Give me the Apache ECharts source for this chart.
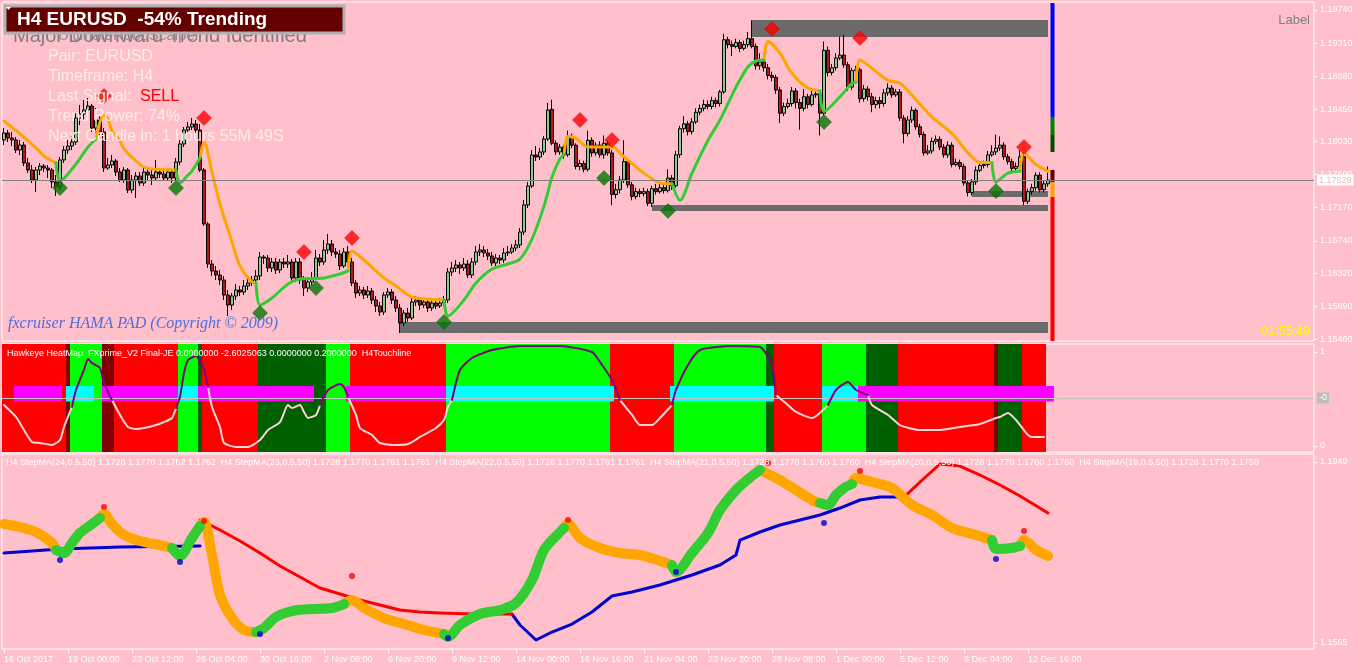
<!DOCTYPE html>
<html><head><meta charset="utf-8">
<script src="https://cdn.jsdelivr.net/npm/echarts@6/dist/echarts.min.js"></script>
<style>html,body{margin:0;padding:0;background:#ffc0cb;}#c{width:1358px;height:670px;}</style>
</head><body><div id="c"></div>
<script>
// ---------------- DATA ----------------
const tickLabels = ['16 Oct 2017','19 Oct 00:00','23 Oct 12:00','26 Oct 04:00','30 Oct 16:00','2 Nov 08:00','6 Nov 20:00','9 Nov 12:00','14 Nov 00:00','16 Nov 16:00','21 Nov 04:00','23 Nov 20:00','28 Nov 08:00','1 Dec 00:00','5 Dec 12:00','8 Dec 04:00','12 Dec 16:00'];
const priceTicks = [1.1974,1.1931,1.1888,1.1845,1.1803,1.1760,1.1717,1.1674,1.1632,1.1589,1.1546];
const heatTicks = [0,1];
const stepTicks = [1.1949,1.1565];
const currentPrice = 1.17529;
const heatMidLevel = 0.511;

// candles: [open, close, low, high]
const candles = [
[1.18050,1.18141,1.17985,1.18206],[1.18141,1.18076,1.18024,1.18180],[1.18076,1.18050,1.17972,1.18154],[1.18050,1.17920,1.17881,1.18089],[1.17920,1.17985,1.17855,1.18050],
[1.17985,1.17751,1.17712,1.18024],[1.17751,1.17660,1.17621,1.17816],[1.17660,1.17530,1.17491,1.17725],[1.17530,1.17660,1.17374,1.17699],[1.17660,1.17712,1.17595,1.17751],
[1.17712,1.17686,1.17634,1.17738],[1.17686,1.17660,1.17556,1.17725],[1.17660,1.17504,1.17426,1.17686],[1.17504,1.17439,1.17322,1.17595],[1.17439,1.17790,1.17400,1.17829],
[1.17790,1.17920,1.17751,1.17972],[1.17920,1.17972,1.17868,1.18050],[1.17972,1.18024,1.17920,1.18115],[1.18024,1.18336,1.17985,1.18414],[1.18336,1.18388,1.18245,1.18505],
[1.18388,1.18440,1.18310,1.18570],[1.18440,1.18492,1.18375,1.18596],[1.18492,1.18206,1.18154,1.18518],[1.18206,1.18310,1.18141,1.18466],[1.18310,1.18154,1.18115,1.18375],
[1.18154,1.17686,1.17634,1.18206],[1.17686,1.17725,1.17660,1.17816],[1.17725,1.17777,1.17686,1.17855],[1.17777,1.17634,1.17582,1.17803],[1.17634,1.17530,1.17504,1.17686],
[1.17530,1.17660,1.17491,1.17699],[1.17660,1.17400,1.17361,1.17686],[1.17400,1.17530,1.17361,1.17595],[1.17530,1.17582,1.17296,1.17634],[1.17582,1.17491,1.17452,1.17634],
[1.17491,1.17634,1.17452,1.17686],[1.17634,1.17595,1.17530,1.17686],[1.17595,1.17556,1.17465,1.17660],[1.17556,1.17634,1.17530,1.17790],[1.17634,1.17608,1.17556,1.17686],
[1.17608,1.17556,1.17517,1.17660],[1.17556,1.17634,1.17517,1.17660],[1.17634,1.17556,1.17491,1.17660],[1.17556,1.17764,1.17517,1.17816],[1.17764,1.17998,1.17725,1.18050],
[1.17998,1.18180,1.17959,1.18219],[1.18180,1.18219,1.18141,1.18284],[1.18219,1.18258,1.18180,1.18336],[1.18258,1.18180,1.18141,1.18310],[1.18180,1.17660,1.17634,1.18258],
[1.17660,1.16958,1.16932,1.17686],[1.16958,1.16438,1.16386,1.16984],[1.16438,1.16347,1.16282,1.16490],[1.16347,1.16295,1.16230,1.16412],[1.16295,1.16230,1.16165,1.16360],
[1.16230,1.16035,1.15970,1.16282],[1.16035,1.15905,1.15762,1.16100],[1.15905,1.16022,1.15840,1.16061],[1.16022,1.16100,1.15970,1.16178],[1.16100,1.16074,1.16022,1.16152],
[1.16074,1.16152,1.16035,1.16230],[1.16152,1.16191,1.16100,1.16256],[1.16191,1.16230,1.16152,1.16282],[1.16230,1.16282,1.16178,1.16360],[1.16282,1.16529,1.16230,1.16594],
[1.16529,1.16516,1.16438,1.16555],[1.16516,1.16386,1.16334,1.16555],[1.16386,1.16464,1.16334,1.16516],[1.16464,1.16360,1.16308,1.16516],[1.16360,1.16464,1.16321,1.16503],
[1.16464,1.16438,1.16386,1.16516],[1.16438,1.16464,1.16386,1.16555],[1.16464,1.16256,1.16217,1.16503],[1.16256,1.16464,1.16204,1.16516],[1.16464,1.16230,1.16178,1.16516],
[1.16230,1.16126,1.16022,1.16282],[1.16126,1.16204,1.16074,1.16243],[1.16204,1.16256,1.16165,1.16334],[1.16256,1.16516,1.16230,1.16620],[1.16516,1.16464,1.16412,1.16568],
[1.16464,1.16620,1.16425,1.16750],[1.16620,1.16698,1.16568,1.16828],[1.16698,1.16594,1.16542,1.16750],[1.16594,1.16568,1.16516,1.16646],[1.16568,1.16412,1.16360,1.16620],
[1.16412,1.16594,1.16386,1.16646],[1.16594,1.16464,1.16425,1.16672],[1.16464,1.16191,1.16152,1.16516],[1.16191,1.16061,1.15996,1.16230],[1.16061,1.16100,1.16022,1.16152],
[1.16100,1.16035,1.15983,1.16139],[1.16035,1.16087,1.15996,1.16152],[1.16087,1.15970,1.15918,1.16126],[1.15970,1.15892,1.15814,1.16022],[1.15892,1.15814,1.15762,1.15944],
[1.15814,1.16035,1.15775,1.16074],[1.16035,1.16074,1.15996,1.16126],[1.16074,1.15970,1.15918,1.16113],[1.15970,1.15866,1.15814,1.16022],[1.15866,1.15671,1.15541,1.15918],
[1.15671,1.15801,1.15632,1.15840],[1.15801,1.15736,1.15684,1.15866],[1.15736,1.15944,1.15710,1.15996],[1.15944,1.15970,1.15892,1.16022],[1.15970,1.15905,1.15840,1.16009],
[1.15905,1.15944,1.15866,1.15996],[1.15944,1.15866,1.15814,1.15983],[1.15866,1.15931,1.15827,1.15970],[1.15931,1.15892,1.15853,1.15983],[1.15892,1.15931,1.15866,1.15996],
[1.15931,1.15970,1.15892,1.16022],[1.15970,1.16334,1.15931,1.16386],[1.16334,1.16386,1.16282,1.16464],[1.16386,1.16425,1.16334,1.16490],[1.16425,1.16386,1.16308,1.16464],
[1.16386,1.16438,1.16347,1.16516],[1.16438,1.16295,1.16256,1.16490],[1.16295,1.16464,1.16256,1.16516],[1.16464,1.16594,1.16425,1.16672],[1.16594,1.16620,1.16542,1.16698],
[1.16620,1.16581,1.16529,1.16672],[1.16581,1.16542,1.16490,1.16633],[1.16542,1.16451,1.16412,1.16594],[1.16451,1.16516,1.16399,1.16568],[1.16516,1.16490,1.16438,1.16555],
[1.16490,1.16581,1.16451,1.16646],[1.16581,1.16594,1.16542,1.16672],[1.16594,1.16646,1.16568,1.16698],[1.16646,1.16685,1.16607,1.16750],[1.16685,1.16854,1.16646,1.16906],
[1.16854,1.17205,1.16815,1.17270],[1.17205,1.17452,1.17166,1.17504],[1.17452,1.17855,1.17426,1.17920],[1.17855,1.17829,1.17777,1.17972],[1.17829,1.17894,1.17790,1.17946],
[1.17894,1.18063,1.17855,1.18102],[1.18063,1.18440,1.18037,1.18531],[1.18448,1.18008,1.17983,1.18574],[1.18008,1.17895,1.17857,1.18046],[1.17895,1.17958,1.17857,1.17996],
[1.17958,1.17857,1.17807,1.17983],[1.17857,1.18096,1.17832,1.18172],[1.18096,1.17983,1.17945,1.18134],[1.17983,1.17706,1.17669,1.18008],[1.17706,1.17744,1.17656,1.17794],
[1.17744,1.17669,1.17631,1.17782],[1.17669,1.18046,1.17643,1.18172],[1.18046,1.17882,1.17832,1.18084],[1.17882,1.17983,1.17845,1.18021],[1.17983,1.17857,1.17819,1.18033],
[1.17857,1.18008,1.17807,1.18109],[1.18008,1.17882,1.17845,1.18046],[1.17882,1.17341,1.17203,1.17920],[1.17341,1.17404,1.17291,1.17480],[1.17404,1.17530,1.17354,1.17580],
[1.17530,1.17769,1.17492,1.18046],[1.17769,1.17467,1.17430,1.17807],[1.17467,1.17316,1.17266,1.17505],[1.17316,1.17379,1.17279,1.17430],[1.17379,1.17354,1.17304,1.17417],
[1.17354,1.17379,1.17316,1.17430],[1.17379,1.17228,1.17190,1.17417],[1.17228,1.17417,1.17178,1.17455],[1.17417,1.17379,1.17341,1.17480],[1.17379,1.17430,1.17354,1.17480],
[1.17430,1.17392,1.17354,1.17480],[1.17392,1.17555,1.17367,1.17669],[1.17555,1.17455,1.17404,1.17593],[1.17455,1.17857,1.17430,1.17908],[1.17857,1.18197,1.17819,1.18235],
[1.18197,1.18260,1.18147,1.18360],[1.18260,1.18159,1.18109,1.18298],[1.18159,1.18285,1.18121,1.18335],[1.18285,1.18411,1.18260,1.18461],[1.18411,1.18461,1.18373,1.18511],
[1.18461,1.18511,1.18423,1.18574],[1.18511,1.18486,1.18448,1.18562],[1.18486,1.18562,1.18448,1.18612],[1.18562,1.18524,1.18474,1.18599],[1.18524,1.18675,1.18486,1.18700],
[1.18675,1.19354,1.18650,1.19430],[1.19354,1.19291,1.19241,1.19392],[1.19291,1.19266,1.19140,1.19342],[1.19266,1.19317,1.19241,1.19367],[1.19317,1.19241,1.19191,1.19354],
[1.19241,1.19291,1.19216,1.19342],[1.19291,1.19367,1.19254,1.19455],[1.19367,1.19266,1.19241,1.19606],[1.19266,1.19015,1.18964,1.19304],[1.19015,1.19065,1.18964,1.19178],
[1.19065,1.18989,1.18939,1.19178],[1.18989,1.18889,1.18838,1.19040],[1.18889,1.18864,1.18813,1.18939],[1.18864,1.18700,1.18650,1.18901],[1.18700,1.18398,1.18272,1.18738],
[1.18398,1.18486,1.18360,1.18537],[1.18486,1.18524,1.18461,1.18587],[1.18524,1.18688,1.18486,1.18738],[1.18688,1.18537,1.18461,1.18725],[1.18537,1.18461,1.18184,1.18587],
[1.18461,1.18612,1.18423,1.18713],[1.18612,1.18511,1.18461,1.18650],[1.18511,1.18637,1.18486,1.18688],[1.18637,1.18650,1.18599,1.18713],[1.18650,1.18398,1.18109,1.18688],
[1.18398,1.19216,1.18373,1.19329],[1.19216,1.18927,1.18876,1.19266],[1.18927,1.18989,1.18889,1.19040],[1.18989,1.19115,1.18952,1.19178],[1.19115,1.19153,1.19090,1.19392],
[1.19153,1.19027,1.18989,1.19417],[1.19027,1.18738,1.18688,1.19065],[1.18738,1.18952,1.18700,1.18989],[1.18952,1.18964,1.18901,1.19015],[1.18964,1.18587,1.18537,1.18989],
[1.18587,1.18713,1.18549,1.18763],[1.18713,1.18612,1.18562,1.18750],[1.18612,1.18511,1.18411,1.18662],[1.18511,1.18562,1.18461,1.18612],[1.18562,1.18524,1.18461,1.18612],
[1.18524,1.18662,1.18486,1.18713],[1.18662,1.18725,1.18625,1.18788],[1.18725,1.18637,1.18599,1.18763],[1.18637,1.18675,1.18612,1.18713],[1.18675,1.18335,1.18298,1.18713],
[1.18335,1.18134,1.18008,1.18373],[1.18134,1.18310,1.18096,1.18360],[1.18310,1.18436,1.18272,1.18486],[1.18436,1.18222,1.18184,1.18461],[1.18222,1.18121,1.18084,1.18260],
[1.18121,1.17882,1.17845,1.18159],[1.17882,1.17908,1.17857,1.17983],[1.17908,1.18033,1.17870,1.18084],[1.18033,1.18058,1.17996,1.18109],[1.18058,1.17958,1.17920,1.18096],
[1.17958,1.17857,1.17819,1.17996],[1.17857,1.17983,1.17819,1.18033],[1.17983,1.17731,1.17694,1.18021],[1.17731,1.17757,1.17706,1.17807],[1.17757,1.17706,1.17669,1.17794],
[1.17706,1.17492,1.17455,1.17744],[1.17492,1.17367,1.17316,1.17530],[1.17367,1.17505,1.17329,1.17543],[1.17505,1.17656,1.17467,1.17706],[1.17656,1.17719,1.17631,1.17769],
[1.17719,1.17731,1.17681,1.17782],[1.17731,1.17857,1.17694,1.17908],[1.17857,1.17895,1.17832,1.17983],[1.17895,1.17945,1.17857,1.18121],[1.17945,1.17983,1.17908,1.18096],
[1.17983,1.17832,1.17794,1.18021],[1.17832,1.17769,1.17731,1.17870],[1.17769,1.17681,1.17643,1.17807],[1.17681,1.17706,1.17656,1.17757],[1.17706,1.17832,1.17669,1.17920],
[1.17832,1.17253,1.17203,1.17882],[1.17253,1.17379,1.17216,1.17417],[1.17379,1.17430,1.17341,1.17480],[1.17430,1.17593,1.17392,1.17631],[1.17593,1.17404,1.17367,1.17631],
[1.17404,1.17480,1.17367,1.17518],[1.17480,1.17530,1.17442,1.17706]
];

// HAMA line, orange (down) and green (up) pieces: [barIndex, price]
const hamaOrange = [
 [[0,1.18297],[4,1.18128],[8,1.17946],[10,1.17842],[13,1.17751]],
 [[23,1.18063],[24,1.18284],[25,1.18375],[26,1.18323],[27,1.18167],[29,1.18037],[30,1.17933],[33,1.17777],[35,1.17699],[37,1.17673],[43,1.17660]],
 [[49,1.17816],[50,1.18024],[52,1.17634],[54,1.17218],[57,1.16724],[59,1.16412],[62,1.16204],[63,1.16191]],
 [[86,1.16347],[87,1.16607],[90,1.16490],[95,1.16256],[98,1.16152],[102,1.16009],[110,1.15970]],
 [[140,1.17857],[141,1.18096],[143,1.18071],[146,1.17958],[152,1.17958],[155,1.17832],[160,1.17618],[164,1.17492],[167,1.17480]],
 [[190,1.19090],[191,1.19329],[194,1.19178],[197,1.18914],[201,1.18725],[204,1.18688]],
 [[213,1.18801],[214,1.19090],[218,1.18939],[221,1.18826],[224,1.18788],[228,1.18574],[232,1.18348],[237,1.18134],[241,1.17882],[244,1.17757],[247,1.17757]],
 [[254,1.17643],[255,1.17882],[258,1.17731],[261,1.17643]]
];
const hamaGreen = [
 [[13,1.17751],[14,1.17517],[18,1.17738],[21,1.17959],[23,1.18063]],
 [[43,1.17660],[44,1.17491],[46,1.17595],[47,1.17647],[49,1.17816]],
 [[63,1.16191],[64,1.15905],[67,1.15996],[71,1.16178],[74,1.16243],[80,1.16256],[84,1.16308],[86,1.16347]],
 [[110,1.15970],[111,1.15762],[115,1.15970],[118,1.16191],[122,1.16373],[126,1.16438],[129,1.16503],[132,1.16763],[135,1.17190],[137,1.17568],[139,1.17807],[140,1.17857]],
 [[167,1.17480],[169,1.17266],[172,1.17618],[176,1.18046],[179,1.18310],[183,1.18738],[186,1.19002],[188,1.19077],[190,1.19090]],
 [[204,1.18688],[205,1.18423],[209,1.18612],[212,1.18788],[213,1.18801]],
 [[247,1.17757],[248,1.17505],[251,1.17618],[254,1.17643]]
];
const sellSignals = [[25,1.18622],[50,1.18336],[75,1.16594],[87,1.16776],[144,1.18310],[152,1.18050],[192,1.19493],[214,1.19376],[255,1.17959]];
const buySignals = [[14,1.17426],[43,1.17426],[64,1.15801],[78,1.16126],[110,1.15684],[150,1.17555],[166,1.17127],[205,1.18284],[248,1.17387]];
// S/R zones: [startBar, topPrice, endBar, bottomPrice]
const zones = [[187,1.19610,261,1.19389],[162,1.17205,261,1.17127],[242,1.17387,261,1.17309],[99,1.15684,261,1.15541]];
// strength column at the right: [bar, topPrice, bottomPrice, colourIndex]
const strengthBar = [[262,1.19831,1.18349,0],[262,1.18349,1.18115,1],[262,1.18115,1.17894,2],[262,1.17660,1.17504,3],[262,1.17504,1.17309,4],[262,1.17309,1.15437,5]];

// Hawkeye heatmap: [fromBar, toBar, state] 0=red 1=green 2=dark green 3=dark red
const heatSegs = [[0,15,0],[16,16,3],[17,24,1],[25,27,3],[28,43,0],[44,48,1],[49,49,2],[50,63,0],[64,80,2],[81,86,1],[87,110,0],[111,151,1],[152,167,0],[168,190,1],[191,192,2],[193,204,0],[205,215,1],[216,223,2],[224,247,0],[248,248,3],[249,254,2],[255,260,0]];
// touchline blocks: [fromBar, toBar, state] 0=magenta 1=cyan
const touchSegs = [[3,14,0],[16,22,1],[25,43,0],[44,48,1],[49,77,0],[86,110,0],[111,152,1],[167,192,1],[205,213,1],[214,262,0]];
const touchLow = 0.473, touchHigh = 0.638;
// oscillator: pink (below level) and purple (above level) pieces: [barIndex, value]
const oscPink = [
 [[0,0.436],[3,0.309],[5,0.170],[7,0.043],[9,0.032],[12,0.011],[14,0.064],[15,0.202],[17,0.415]],
 [[27,0.489],[29,0.330],[31,0.202],[33,0.181],[35,0.191],[38,0.223],[40,0.255],[42,0.298],[43,0.404]],
 [[51,0.628],[52,0.415],[54,0.202],[55,0.032],[58,-0.011],[61,-0.011],[64,0.064],[66,0.170],[69,0.255],[71,0.436],[72,0.404],[74,0.436],[75,0.362],[76,0.298],[78,0.330],[79,0.436]],
 [[86,0.521],[88,0.330],[89,0.191],[92,0.117],[94,0.032],[98,0.011],[101,0.021],[104,0.096],[108,0.191],[110,0.277],[111,0.415],[112,0.489]],
 [[154,0.489],[157,0.330],[159,0.223],[162,0.223],[164,0.298],[167,0.436]],
 [[193,0.543],[196,0.436],[198,0.362],[202,0.298],[206,0.436]],
 [[216,0.543],[217,0.436],[221,0.330],[224,0.223],[229,0.170],[234,0.170],[239,0.202],[244,0.234],[248,0.298],[249,0.309],[251,0.351],[253,0.277],[254,0.223],[256,0.117],[257,0.096],[260,0.096]]
];
const oscPurple = [
 [[17,0.415],[18,0.596],[20,0.809],[21,0.926],[22,0.883],[24,0.830],[25,0.670],[27,0.489]],
 [[43,0.404],[44,0.521],[45,0.777],[46,0.915],[48,0.957],[50,0.809],[51,0.628]],
 [[79,0.436],[81,0.596],[84,0.660],[85,0.628],[86,0.521]],
 [[112,0.489],[114,0.809],[117,0.936],[122,1.021],[129,1.064],[139,1.064],[147,1.0],[149,0.894],[152,0.702],[154,0.489]],
 [[167,0.436],[168,0.596],[171,0.862],[174,1.021],[182,1.064],[189,1.053],[192,0.862],[193,0.543]],
 [[206,0.436],[208,0.596],[211,0.681],[213,0.596],[216,0.543]]
];

// StepMA bundle (fast) and slow StepMA: [barIndex, price]
const stepFastOrange = [
 [[0,1.18175],[4,1.18111],[8,1.18005],[12,1.17772],[13,1.17623]],
 [[24,1.18302],[25,1.18387],[27,1.18175],[30,1.17941],[34,1.17814],[39,1.17729],[42,1.17666]],
 [[49,1.18132],[50,1.18217],[52,1.17517],[54,1.16668],[57,1.16180],[60,1.15926],[63,1.15883]],
 [[85,1.16477],[87,1.16562],[90,1.16393],[95,1.16180],[100,1.16053],[105,1.15926],[110,1.15841]],
 [[140,1.18090],[141,1.18175],[144,1.17878],[149,1.17666],[154,1.17559],[159,1.17517],[164,1.17390],[167,1.17305]],
 [[189,1.19320],[190,1.19278],[194,1.19108],[198,1.18896],[202,1.18684],[204,1.18620]],
 [[212,1.19023],[213,1.19151],[217,1.19066],[222,1.18938],[227,1.18578],[232,1.18366],[237,1.18090],[243,1.17941],[247,1.17835]],
 [[254,1.17708],[255,1.17835],[258,1.17623],[261,1.17496]]
];
const stepFastGreen = [
 [[13,1.17623],[15,1.17559],[17,1.17772],[19,1.17984],[22,1.18175],[24,1.18302]],
 [[42,1.17666],[44,1.17496],[47,1.17878],[49,1.18132]],
 [[63,1.15883],[65,1.15968],[68,1.16202],[72,1.16329],[77,1.16371],[82,1.16393],[85,1.16477]],
 [[110,1.15841],[111,1.15777],[114,1.16032],[119,1.16265],[124,1.16350],[128,1.16499],[132,1.16987],[135,1.17623],[139,1.18005],[140,1.18090]],
 [[167,1.17305],[168,1.17156],[172,1.17559],[176,1.17984],[179,1.18472],[183,1.18896],[187,1.19193],[189,1.19320]],
 [[204,1.18620],[206,1.18578],[208,1.18790],[210,1.18938],[212,1.19023]],
 [[247,1.17835],[248,1.17644],[252,1.17666],[254,1.17708]]
];
const stepSlowBlue = [
 [[0,1.17559],[14,1.17644],[29,1.17687],[49,1.17708]],
 [[127,1.16265],[129,1.16032],[133,1.15714],[137,1.15883],[142,1.16053],[147,1.16308],[152,1.16647],[157,1.16732],[164,1.16881],[172,1.17093],[179,1.17305],[183,1.17517],[184,1.17835],[189,1.18005],[194,1.18153],[199,1.18260],[204,1.18366],[209,1.18514],[214,1.18684],[219,1.18747],[225,1.18747]]
];
const stepSlowRed = [
 [[49,1.18260],[54,1.18047],[59,1.17814],[64,1.17559],[69,1.17284],[74,1.17050],[79,1.16817],[84,1.16690],[89,1.16562],[94,1.16456],[99,1.16350],[104,1.16308],[109,1.16287],[117,1.16265],[127,1.16265]],
 [[225,1.18747],[229,1.19066],[234,1.19448],[239,1.19405],[244,1.19214],[249,1.19002],[254,1.18769],[261,1.18408]]
];
const stepBlueDots = [[14,1.17411],[44,1.17368],[64,1.15841],[111,1.15756],[168,1.17156],[205,1.18196],[248,1.17432]];
const stepRedDots = [[25,1.18535],[50,1.18238],[87,1.17071],[141,1.18260],[191,1.19469],[214,1.19299],[255,1.18026]];

// ---------------- CHART ----------------
const NCAT = 328;
const categories = Array.from({length: NCAT}, (_, i) => String(i));
const FONT = 'Liberation Sans';
const TOP_MIN = 1.15437, TOP_MAX = 1.19844;
const MID_MIN = -0.0638, MID_MAX = 1.0851;
const BOT_MIN = 1.15523, BOT_MAX = 1.19660;
const heatColors = ['#ff0000', '#00ff00', '#005f00', '#800000'];
const touchColors = ['#ff00ff', '#00ffff'];
const strengthColors = ['#0000ff', '#008000', '#004d00', '#5a0000', '#ffa500', '#ff0000'];

const chart = echarts.init(document.getElementById('c'), null, {renderer: 'canvas'});

function lineSeries(data, color, width, g, smooth, z) {
  return {type: 'line', xAxisIndex: g, yAxisIndex: g, data: data, showSymbol: false, symbol: 'none',
    smooth: smooth, lineStyle: {color: color, width: width, cap: 'round', join: 'round'}, z: z || 4, silent: true, animation: false};
}
function levelLine(g, value, color, text, bg, fg) {
  return {type: 'line', xAxisIndex: g, yAxisIndex: g, data: [], showSymbol: false, silent: true, z: 2,
    markLine: {silent: true, symbol: ['none', 'none'], animation: false, precision: 6,
      lineStyle: {color: color, width: 1, type: 'solid'},
      label: {show: true, position: 'end', formatter: text, backgroundColor: bg, color: fg,
        fontSize: 9, fontFamily: FONT, padding: [1, 2, 1, 2], distance: 3},
      data: [{yAxis: value}]}};
}
function segRect(lowV, highV, colors) {
  return function (params, api) {
    const a = api.coord([api.value(0), highV]);
    const b = api.coord([api.value(1), lowV]);
    const w = api.size([1, 0])[0];
    return {type: 'rect', shape: {x: a[0] - w / 2, y: a[1], width: b[0] - a[0] + w, height: b[1] - a[1]},
      style: {fill: colors[api.value(2)]}};
  };
}

const series = [];
series.push({type: 'custom', xAxisIndex: 0, yAxisIndex: 0, z: 1, silent: true, data: zones,
  renderItem: function (params, api) {
    const a = api.coord([api.value(0), api.value(1)]);
    const b = api.coord([api.value(2), api.value(3)]);
    return {type: 'rect', shape: {x: a[0], y: a[1], width: b[0] - a[0], height: b[1] - a[1]}, style: {fill: '#6b6b6b'}};
  }});
series.push({type: 'custom', xAxisIndex: 0, yAxisIndex: 0, z: 1, silent: true, data: strengthBar,
  renderItem: function (params, api) {
    const a = api.coord([api.value(0), api.value(1)]);
    const b = api.coord([api.value(0), api.value(2)]);
    return {type: 'rect', shape: {x: a[0] - 1.5, y: a[1], width: 4, height: b[1] - a[1]}, style: {fill: strengthColors[api.value(3)]}};
  }});
series.push(levelLine(0, currentPrice, '#808080', currentPrice.toFixed(5), '#ffffff', '#ffb0c0'));
series.push({type: 'candlestick', xAxisIndex: 0, yAxisIndex: 0, data: candles, barWidth: 3, z: 3, silent: true,
  itemStyle: {color: '#8fc88f', color0: '#b21818', borderColor: '#000', borderColor0: '#000', borderWidth: 1}});
hamaOrange.forEach(s => series.push(lineSeries(s, '#ffa500', 3, 0, 0.3, 4)));
hamaGreen.forEach(s => series.push(lineSeries(s, '#32cd32', 3, 0, 0.3, 4)));
series.push({type: 'scatter', xAxisIndex: 0, yAxisIndex: 0, data: sellSignals, symbol: 'diamond', symbolSize: 15, z: 5, silent: true,
  itemStyle: {color: '#ff0000', borderColor: '#d00000', borderWidth: 0.5}});
series.push({type: 'scatter', xAxisIndex: 0, yAxisIndex: 0, data: buySignals, symbol: 'diamond', symbolSize: 15, z: 5, silent: true,
  itemStyle: {color: '#007800', borderColor: '#005000', borderWidth: 0.5}});

// middle panel
series.push({type: 'custom', xAxisIndex: 1, yAxisIndex: 1, z: 1, silent: true, data: heatSegs,
  renderItem: segRect(MID_MIN, MID_MAX, heatColors)});
series.push({type: 'custom', xAxisIndex: 1, yAxisIndex: 1, z: 2, silent: true, data: touchSegs,
  renderItem: segRect(touchLow, touchHigh, touchColors)});
series.push(levelLine(1, heatMidLevel, '#c4c4c4', '-0', '#bdbdbd', '#ffffff'));
oscPink.forEach(s => series.push(lineSeries(s, '#ffd3dc', 2, 1, 0.2, 4)));
oscPurple.forEach(s => series.push(lineSeries(s, '#800080', 2, 1, 0.2, 5)));

// bottom panel
stepSlowBlue.forEach(s => series.push(lineSeries(s, '#0000d0', 3, 2, false, 3)));
stepSlowRed.forEach(s => series.push(lineSeries(s, '#ff0000', 3, 2, false, 3)));
stepFastOrange.forEach(s => series.push(lineSeries(s, '#ffa500', 10, 2, 0.3, 4)));
stepFastGreen.forEach(s => series.push(lineSeries(s, '#32cd32', 10, 2, 0.3, 4)));
series.push({type: 'scatter', xAxisIndex: 2, yAxisIndex: 2, data: stepBlueDots, symbolSize: 6, z: 5, silent: true, itemStyle: {color: '#0000d0'}});
series.push({type: 'scatter', xAxisIndex: 2, yAxisIndex: 2, data: stepRedDots, symbolSize: 6, z: 5, silent: true, itemStyle: {color: '#ff0000'}});

const axisLabelBase = {color: '#ffffff', fontSize: 9, fontFamily: FONT, margin: 6};
function xAxisCfg(g, show) {
  return {type: 'category', gridIndex: g, data: categories, boundaryGap: true,
    axisLine: {show: false},
    axisTick: {show: show, alignWithLabel: true, length: 4, lineStyle: {color: '#ffffff'},
      interval: (i) => i % 16 === 0 && i / 16 < tickLabels.length},
    axisLabel: Object.assign({}, axisLabelBase, {show: show, align: 'left',
      interval: (i) => i % 16 === 0 && i / 16 < tickLabels.length,
      formatter: (v, i) => tickLabels[i / 16] || ''}),
    splitLine: {show: false}};
}
function yAxisCfg(g, min, max, ticks, fmt) {
  return {type: 'value', gridIndex: g, position: 'right', min: min, max: max, scale: true,
    axisLine: {show: false}, splitLine: {show: false},
    axisTick: {show: true, customValues: ticks, length: 3, lineStyle: {color: '#ffffff'}},
    axisLabel: Object.assign({}, axisLabelBase, {customValues: ticks, formatter: fmt})};
}

const gridBase = {show: true, borderColor: '#ffffff', borderWidth: 1, backgroundColor: 'transparent', left: 2, width: 1312};

const infoFont = '16px "Liberation Sans"';
const infoColor = '#fdeee2';

chart.setOption({
  animation: false,
  backgroundColor: '#ffc0cb',
  textStyle: {fontFamily: FONT},
  grid: [
    Object.assign({}, gridBase, {top: 2, height: 339}),
    Object.assign({}, gridBase, {top: 344, height: 108}),
    Object.assign({}, gridBase, {top: 454, height: 195})
  ],
  xAxis: [xAxisCfg(0, false), xAxisCfg(1, false), xAxisCfg(2, true)],
  yAxis: [
    yAxisCfg(0, TOP_MIN, TOP_MAX, priceTicks, v => v.toFixed(5)),
    yAxisCfg(1, MID_MIN, MID_MAX, heatTicks, v => String(Math.round(v))),
    yAxisCfg(2, BOT_MIN, BOT_MAX, stepTicks, v => v.toFixed(4))
  ],
  series: series,
  graphic: [
    {type: 'text', x: 13, y: 36, z: 100, style: {text: 'Major Downward Trend Identified', fill: '#7d7d7d', font: '20px "Liberation Sans"', verticalAlign: 'middle'}},
    {type: 'text', x: 58, y: 36, z: 100, style: {text: 'UltimateRoboScalper', fill: '#8c8c8c', font: '15px "Liberation Sans"', verticalAlign: 'middle'}},
    {type: 'rect', z: 101, shape: {x: 5, y: 6, width: 339, height: 27}, style: {fill: '#640000', stroke: '#b0b0b0', lineWidth: 3}},
    {type: 'polygon', z: 102, shape: {points: [[6, 7], [11, 7], [8.5, 10]]}, style: {fill: '#ffffff'}},
    {type: 'text', x: 17, y: 20, z: 102, style: {text: 'H4 EURUSD  -54% Trending', fill: '#ffffff', font: 'bold 19px "Liberation Sans"', verticalAlign: 'middle'}},
    {type: 'text', x: 48, y: 57, z: 100, style: {text: 'Pair: EURUSD', fill: infoColor, font: infoFont, verticalAlign: 'middle'}},
    {type: 'text', x: 48, y: 77, z: 100, style: {text: 'Timeframe: H4', fill: infoColor, font: infoFont, verticalAlign: 'middle'}},
    {type: 'text', x: 48, y: 97, z: 100, style: {text: 'Last Signal:', fill: infoColor, font: infoFont, verticalAlign: 'middle'}},
    {type: 'text', x: 140, y: 97, z: 100, style: {text: 'SELL', fill: '#ff0000', font: infoFont, verticalAlign: 'middle'}},
    {type: 'text', x: 48, y: 117, z: 100, style: {text: 'Trend Power: 74%', fill: infoColor, font: infoFont, verticalAlign: 'middle'}},
    {type: 'text', x: 48, y: 137, z: 100, style: {text: 'Next Candle in: 1 hours 55M 49S', fill: infoColor, font: infoFont, verticalAlign: 'middle'}},
    {type: 'text', x: 8, y: 324, z: 100, style: {text: 'fxcruiser HAMA PAD (Copyright \u00a9 2009)', fill: '#4a6fe0', font: 'italic 16px "Liberation Serif"', verticalAlign: 'middle'}},
    {type: 'text', x: 1310, y: 20, z: 100, style: {text: 'Label', fill: '#808080', font: '13px "Liberation Sans"', align: 'right', verticalAlign: 'middle'}},
    {type: 'text', x: 1310, y: 332, z: 100, style: {text: '01:55:49', fill: '#ffff00', font: '12.5px "Liberation Sans"', align: 'right', verticalAlign: 'middle'}},
    {type: 'text', x: 7, y: 354, z: 100, style: {text: 'Hawkeye HeatMap  FXprime_V2 Final-JE 0.0000000 -2.6025063 0.0000000 0.2000000  H4Touchline', fill: '#ffffff', font: '9px "Liberation Sans"', verticalAlign: 'middle'}},
    {type: 'text', x: 6, y: 463, z: 100, style: {text: 'H4 StepMA(24,0.5,50) 1.1728 1.1770 1.1762 1.1762  H4 StepMA(23,0.5,50) 1.1728 1.1770 1.1761 1.1761  H4 StepMA(22,0.5,50) 1.1728 1.1770 1.1761 1.1761  H4 StepMA(21,0.5,50) 1.1728 1.1770 1.1760 1.1760  H4 StepMA(20,0.5,50) 1.1728 1.1770 1.1760 1.1760  H4 StepMA(19,0.5,50) 1.1728 1.1770 1.1759', fill: '#ffffff', font: '9px "Liberation Sans"', verticalAlign: 'middle'}}
  ]
});
</script>
</body></html>
